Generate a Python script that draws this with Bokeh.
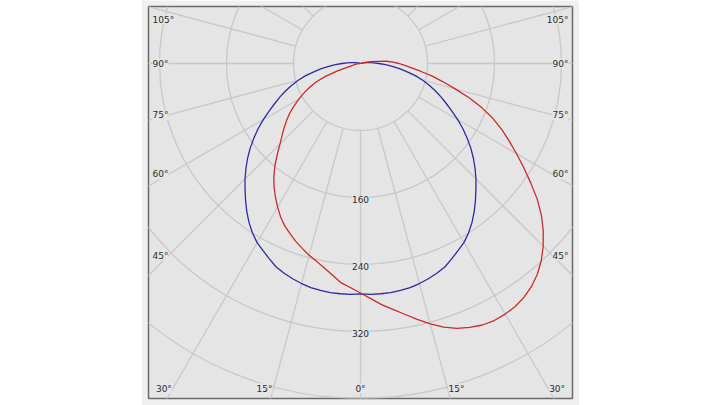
import numpy as np
from bokeh.plotting import figure
from bokeh.models import Range1d, ColumnDataSource, LabelSet, Spacer
from bokeh.layouts import row
from bokeh.core.properties import value
from bokeh.embed import file_html
from bokeh.resources import INLINE

# ---------------- data (cd/klm), gamma 0..180 in 2.5 degree steps ----------------
gamma = [i * 2.5 for i in range(73)]
# C0-C180 plane (symmetric, blue)
c0_c180 = [275, 276, 276, 276, 275, 274, 272, 269.5, 266.5, 263, 257.5, 252, 247, 240, 232,
           223, 213.5, 204, 195, 185.5, 176, 166, 155.5, 145, 134, 123, 113, 104, 95, 86,
           77, 67, 56, 47, 38, 30, 22, 16, 12, 8, 5, 3, 2, 1, 0,
           0, 0, 0, 0, 0, 0, 0, 0, 0, 0, 0, 0, 0, 0, 0, 0, 0, 0, 0, 0, 0, 0, 0, 0, 0, 0, 0, 0]
# C90 half-plane (right, red)
c90 = [274, 281, 289, 296, 304, 313, 322, 330, 336.5, 341, 344.5, 346, 345.5, 344, 340.5,
       335.5, 328.5, 319.5, 308.5, 296, 282, 266, 248, 231, 215, 200, 186, 171, 154, 136,
       117, 101, 87, 73, 62, 53, 46, 39, 31, 20, 12, 7, 4, 2, 0,
       0, 0, 0, 0, 0, 0, 0, 0, 0, 0, 0, 0, 0, 0, 0, 0, 0, 0, 0, 0, 0, 0, 0, 0, 0, 0, 0, 0]
# C270 half-plane (left, red)
c270 = [274, 268, 263, 255, 248, 242, 237, 231.5, 226, 220, 214, 206.5, 198, 189, 180,
        170, 159, 147, 136, 127, 119, 111, 103, 94, 85, 76, 67, 57, 44, 28,
        14, 8, 5, 4, 3, 2, 2, 1, 1, 0, 0, 0, 0, 0, 0,
        0, 0, 0, 0, 0, 0, 0, 0, 0, 0, 0, 0, 0, 0, 0, 0, 0, 0, 0, 0, 0, 0, 0, 0, 0, 0, 0, 0]

ring_values = [80, 160, 240, 320, 400, 480]
ring_label_values = [160, 240, 320]
ring_labels = ["160", "240", "320"]
spoke_angles = list(range(-180, 181, 15))
side_label_angles = [105, 90, 75, 60, 45]
bottom_label_angles = [30, 15]

# ---------------- style ----------------
BG = "#e5e5e5"
BAND = "#f0f0f0"
GRID = "#c8c8c8"
TEXT = "#2b2b2b"
BLUE = "#2a2aa6"
RED = "#cc2a2a"
FONT = "DejaVu Sans"
FSIZE = "9px"

S = 0.8375            # px per cd/klm
FRAME_W, FRAME_H = 424, 392
CY = 57               # px from frame top to the centre
x_half = FRAME_W / 2 / S
y_top = CY / S
y_bot = -(FRAME_H - CY) / S

p = figure(width=438, height=405,
           x_range=Range1d(-x_half, x_half), y_range=Range1d(y_bot, y_top),
           output_backend="svg", toolbar_location=None,
           x_axis_location=None, y_axis_location=None,
           min_border_left=7, min_border_right=7, min_border_top=6, min_border_bottom=7,
           background_fill_color=BG, border_fill_color=BAND,
           outline_line_color="#6a6a6a", outline_line_width=1.5)
p.grid.visible = False

# rings
p.circle(x=[0] * len(ring_values), y=[0] * len(ring_values), radius=ring_values,
         fill_color=None, line_color=GRID, line_width=1.3)

# spokes from the first ring outward
sa = np.radians(spoke_angles)
r0, r1 = ring_values[0], 900
p.segment(x0=r0 * np.sin(sa), y0=-r0 * np.cos(sa), x1=r1 * np.sin(sa), y1=-r1 * np.cos(sa),
          line_color=GRID, line_width=1.3)

# curves
g = np.radians(gamma)
ang_full = np.concatenate([-g[::-1], g[1:]])
blue_vals = np.concatenate([np.array(c0_c180)[::-1], np.array(c0_c180)[1:]])
red_vals = np.concatenate([np.array(c270)[::-1], np.array(c90)[1:]])
p.line(x=blue_vals * np.sin(ang_full), y=-blue_vals * np.cos(ang_full), line_color=BLUE, line_width=1.3)
p.line(x=red_vals * np.sin(ang_full), y=-red_vals * np.cos(ang_full), line_color=RED, line_width=1.3)

common = dict(text_baseline="middle", text_font=value(FONT), text_font_size=value(FSIZE),
              text_color=TEXT, background_fill_color=BG)

# ring labels
rl = ColumnDataSource(dict(x=[0] * len(ring_label_values), y=[-v for v in ring_label_values], text=ring_labels))
p.add_layout(LabelSet(x="x", y="y", text="text", source=rl, text_align="center", y_offset=-2, **common))

# side angle labels (on their spokes, near the frame edge)
inner = x_half - 20 / S
ymax_lab = y_top - 13 / S
side_y = []
for a in side_label_angles:
    ar = np.radians(a)
    yv = -inner * np.cos(ar) / np.sin(ar)
    side_y.append(min(yv, ymax_lab))
side_txt = [f"{a}°" for a in side_label_angles]

# bottom angle labels (next to their spokes)
yb = y_bot + 10 / S
bl_x = [-abs(yb) * np.tan(np.radians(a)) for a in bottom_label_angles]
br_x = [abs(yb) * np.tan(np.radians(a)) for a in bottom_label_angles]
bt = [f"{a}°" for a in bottom_label_angles]

la = ColumnDataSource(dict(x=[-x_half + 3 / S] * len(side_y) + br_x,
                           y=side_y + [yb] * len(br_x),
                           text=side_txt + bt))
ra = ColumnDataSource(dict(x=[x_half - 3 / S] * len(side_y) + bl_x,
                           y=side_y + [yb] * len(bl_x),
                           text=side_txt + bt))
ca = ColumnDataSource(dict(x=[0], y=[yb], text=["0°"]))

p.add_layout(LabelSet(x="x", y="y", text="text", source=la, text_align="left", x_offset=1, **common))
p.add_layout(LabelSet(x="x", y="y", text="text", source=ra, text_align="right", x_offset=-1, **common))
p.add_layout(LabelSet(x="x", y="y", text="text", source=ca, text_align="center", **common))

layout = row(Spacer(width=141, height=10), p)
open("out.html", "w").write(file_html(layout, INLINE))
